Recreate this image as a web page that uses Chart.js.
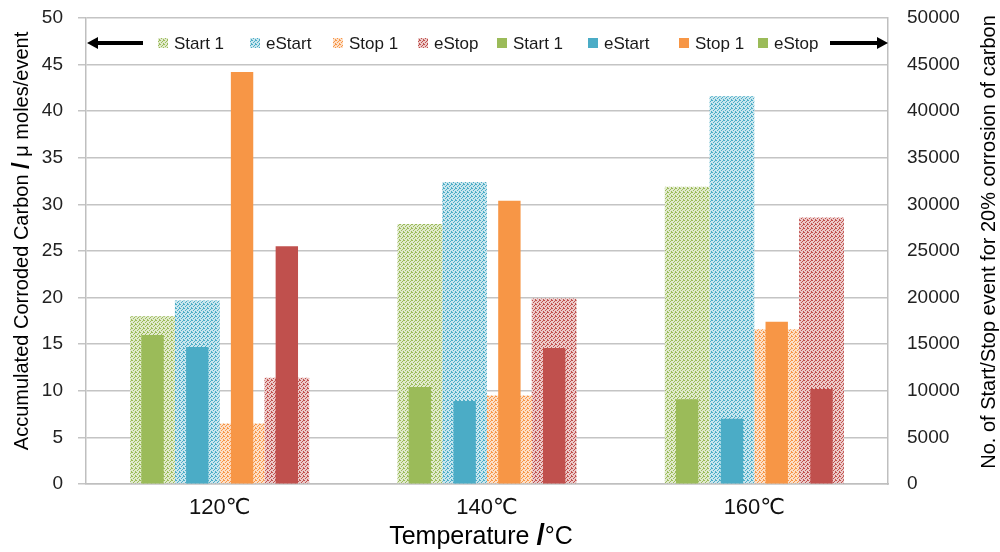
<!DOCTYPE html>
<html>
<head>
<meta charset="utf-8">
<script src="https://cdn.jsdelivr.net/npm/chart.js@4.4.1/dist/chart.umd.min.js"></script>
<style>
  html, body { margin: 0; padding: 0; background: #fff; }
</style>
</head>
<body>
<canvas id="myChart" width="1000" height="552"></canvas>
<script>
// Dữ liệu
const categories = ["120℃", "140℃", "160℃"];
const seriesNames = ["Start 1", "eStart", "Stop 1", "eStop"];

// trục trái: carbon bị ăn mòn (µmol/event)
const corrodedStart1 = [18.0, 27.9, 31.9];
const corrodedEStart = [19.7, 32.4, 41.6];
const corrodedStop1 = [6.5, 9.5, 16.6];
const corrodedEStop = [11.4, 19.9, 28.6];

// trục phải: số lần start/stop cho 20% ăn mòn
const eventsStart1 = [16000, 10400, 9100];
const eventsEStart = [14700, 8900, 7000];
const eventsStop1 = [44200, 30400, 17400];
const eventsEStop = [25500, 14600, 10200];

const leftTicks = [0, 5, 10, 15, 20, 25, 30, 35, 40, 45, 50];
const rightTicks = [0, 5000, 10000, 15000, 20000, 25000, 30000, 35000, 40000, 45000, 50000];

const colors = ["#9bbb59", "#4bacc6", "#f79646", "#c0504d"];
const FONT = '"Liberation Sans", Arial, "DejaVu Sans", sans-serif';

function dotPattern(color) {
    const c = document.createElement("canvas");
    c.width = 4; c.height = 4;
    const g = c.getContext("2d");
    g.fillStyle = "#fff";
    g.fillRect(0, 0, 4, 4);
    g.globalAlpha = 0.3;
    g.fillStyle = color;
    g.fillRect(0, 0, 4, 4);
    g.globalAlpha = 1;
    [[0, 0], [2, 1], [1, 2], [3, 3], [3, 0]].forEach(p => g.fillRect(p[0], p[1], 1, 1));
    return g.createPattern(c, "repeat");
}

const leftData = [corrodedStart1, corrodedEStart, corrodedStop1, corrodedEStop];
const rightData = [eventsStart1, eventsEStart, eventsStop1, eventsEStop];

let datasets = [];
leftData.forEach((d, i) => {
    const pat = dotPattern(colors[i]);
    datasets.push({
        label: seriesNames[i], data: d, yAxisID: "y", stack: "s" + i,
        backgroundColor: pat, swatch: pat,
        barPercentage: 1, categoryPercentage: 0.67, order: 1
    });
});
rightData.forEach((d, i) => {
    datasets.push({
        label: seriesNames[i], data: d, yAxisID: "y1", stack: "s" + i,
        backgroundColor: colors[i],
        swatch: i === 3 ? colors[0] : colors[i], // legend gốc dùng ô màu xanh lá cho eStop
        barPercentage: 0.5, categoryPercentage: 0.67, order: 0
    });
});

function drawArrow(ctx, fromX, toX, y) {
    const dir = toX > fromX ? 1 : -1;
    const head = 11;
    ctx.strokeStyle = "#000";
    ctx.fillStyle = "#000";
    ctx.lineWidth = 4;
    ctx.beginPath();
    ctx.moveTo(fromX, y);
    ctx.lineTo(toX - dir * head, y);
    ctx.stroke();
    ctx.beginPath();
    ctx.moveTo(toX, y);
    ctx.lineTo(toX - dir * head, y - 6);
    ctx.lineTo(toX - dir * head, y + 6);
    ctx.closePath();
    ctx.fill();
}

// Legend nằm trong vùng vẽ, có mũi tên chỉ trục
const legendX = [158, 250, 333, 418, 497, 588, 679, 758];
const legendPlugin = {
    id: "arrowLegend",
    afterDraw(chart) {
        const ctx = chart.ctx;
        const y = 43;
        ctx.save();
        drawArrow(ctx, 143, 87, y);
        drawArrow(ctx, 830, 888, y);
        ctx.font = "17px " + FONT;
        ctx.textBaseline = "middle";
        chart.data.datasets.forEach((ds, i) => {
            ctx.fillStyle = ds.swatch;
            ctx.fillRect(legendX[i], y - 5, 10, 10);
            ctx.fillStyle = "#1a1a1a";
            ctx.fillText(ds.label, legendX[i] + 16, y + 1);
        });
        ctx.restore();
    }
};

// Tiêu đề trục (dấu "/" in đậm)
function drawParts(ctx, parts, cx, cy, rot) {
    ctx.save();
    ctx.translate(cx, cy);
    ctx.rotate(rot);
    ctx.textBaseline = "middle";
    ctx.fillStyle = "#000";
    let total = 0;
    parts.forEach(p => { ctx.font = p[1]; total += ctx.measureText(p[0]).width; });
    let x = -total / 2;
    parts.forEach(p => {
        ctx.font = p[1];
        ctx.fillText(p[0], x, 0);
        x += ctx.measureText(p[0]).width;
    });
    ctx.restore();
}

const titlePlugin = {
    id: "axisTitles",
    afterDraw(chart) {
        const ctx = chart.ctx;
        const n = "20px " + FONT, b = "bold 24px " + FONT;
        drawParts(ctx, [["Accumulated Corroded Carbon ", n], ["/", b], [" μ moles/event", n]], 22, 241, -Math.PI / 2);
        drawParts(ctx, [["No. of Start/Stop event for 20% corrosion of carbon", n]], 989, 242, -Math.PI / 2);
        drawParts(ctx, [["Temperature ", "25px " + FONT], ["/", "bold 30px " + FONT], ["°C", "25px " + FONT]], 481, 537, 0);
    }
};

new Chart(document.getElementById("myChart"), {
    type: "bar",
    data: { labels: categories, datasets: datasets },
    options: {
        responsive: false,
        animation: false,
        layout: { padding: { top: 18, left: 0, right: 0, bottom: 0 } },
        plugins: { legend: { display: false }, tooltip: { enabled: false } },
        scales: {
            x: {
                grid: { display: false, drawTicks: false },
                border: { display: true, color: "#bfbfbf", width: 1.5 },
                ticks: { padding: 11, color: "#111", font: { size: 22, family: FONT } },
                afterFit: s => { s.height = 68; s.paddingLeft = 0; s.paddingRight = 0; }
            },
            y: {
                position: "left", min: 0, max: 50, stacked: false,
                afterBuildTicks: s => { s.ticks = leftTicks.map(v => ({ value: v })); },
                ticks: { padding: 15, color: "#222", font: { size: 19, family: FONT }, callback: v => String(v) },
                grid: { color: "#c4c4c4", lineWidth: 1.5, tickLength: 8 },
                border: { color: "#bfbfbf", width: 1.5 },
                afterFit: s => { s.width = 86; s.paddingTop = 0; s.paddingBottom = 0; }
            },
            y1: {
                position: "right", min: 0, max: 50000, stacked: false,
                afterBuildTicks: s => { s.ticks = rightTicks.map(v => ({ value: v })); },
                ticks: { padding: 19, color: "#222", font: { size: 19, family: FONT }, callback: v => String(v) },
                grid: { drawOnChartArea: false, drawTicks: false },
                border: { color: "#bfbfbf", width: 1.5 },
                afterFit: s => { s.width = 112; s.paddingTop = 0; s.paddingBottom = 0; }
            }
        }
    },
    plugins: [legendPlugin, titlePlugin]
});
</script>
</body>
</html>
